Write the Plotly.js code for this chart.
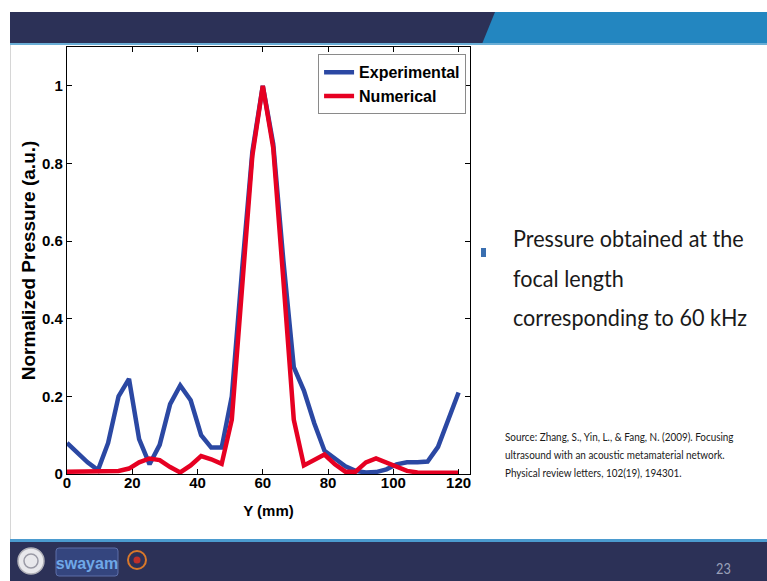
<!DOCTYPE html>
<html>
<head>
<meta charset="utf-8">
<script src="https://cdn.plot.ly/plotly-3.0.1.min.js"></script>
<style>
  html, body { margin:0; padding:0; background:#ffffff; }
  #slide { position:relative; width:767px; height:581px; overflow:hidden; background:#ffffff; font-family:"Lato","Open Sans",sans-serif; }
  #chart { position:absolute; left:0; top:0; width:767px; height:581px; }
  .abs { position:absolute; }
  #hdrNavy { left:10px; top:12px; width:757px; height:32px; background:#2c3157; }
  #hdrBlue { left:482px; top:12px; width:285px; height:32px; background:#2386c0; clip-path:polygon(13px 0, 100% 0, 100% 100%, 0 100%); }
  #hdrLine { left:10px; top:43px; width:757px; height:2px; background:#6aaed6; }
  #leftEdge { left:10px; top:45px; width:1px; height:495px; background:#d6d6d6; }
  #ftrLine { left:10px; top:539px; width:757px; height:3px; background:#4b9bcf; }
  #ftrNavy { left:10px; top:542px; width:757px; height:39px; background:#2c3157; }
  #pageNo { left:716px; top:559px; color:#9aa0b8; font-size:15px; font-family:"Lato",sans-serif; transform:scaleX(0.85); transform-origin:0 0; }
  #bullet { left:481px; top:248px; width:5px; height:9px; background:#3a6fb0; }
  #mainText { left:513px; top:218px; font-size:24px; line-height:39.5px; color:#1a1a1a; white-space:nowrap; transform:scaleX(0.9); transform-origin:0 0; }
  #srcText { left:505px; top:428px; font-size:11px; line-height:18px; color:#1a1a1a; white-space:nowrap; transform:scaleX(0.9); transform-origin:0 0; }
</style>
</head>
<body>
<div id="slide">
  <div class="abs" id="hdrNavy"></div>
  <div class="abs" id="hdrBlue"></div>
  <div class="abs" id="hdrLine"></div>
  <div class="abs" id="leftEdge"></div>
  <div class="abs" id="ftrLine"></div>
  <div class="abs" id="ftrNavy"></div>
  <svg class="abs" style="left:10px;top:542px;" width="160" height="39">
    <circle cx="21" cy="19" r="13" fill="#e8e8ec" stroke="#b0b0b8" stroke-width="1.5"/>
    <circle cx="21" cy="19" r="7" fill="none" stroke="#9a9aa6" stroke-width="1.5"/>
    <rect x="46" y="6" width="62" height="28" rx="3" fill="#34457e" stroke="#5c6ea8"/>
    <text x="77" y="27" text-anchor="middle" font-family="Liberation Sans Narrow, Liberation Sans, sans-serif" font-size="16" font-weight="bold" fill="#6fa8e8">swayam</text>
    <circle cx="127" cy="18" r="9" fill="none" stroke="#d9782a" stroke-width="2"/>
    <circle cx="127" cy="18" r="3.5" fill="#c0302a"/>
  </svg>
  <div class="abs" id="pageNo">23</div>
  <div class="abs" id="bullet"></div>
  <div class="abs" id="mainText">Pressure obtained at the<br>focal length<br>corresponding to 60 kHz</div>
  <div class="abs" id="srcText">Source: Zhang, S., Yin, L., &amp; Fang, N. (2009). Focusing<br>ultrasound with an acoustic metamaterial network.<br>Physical review letters, 102(19), 194301.</div>
  <div id="chart"></div>
</div>
<script>
// ---- data ----
const yPositions = [0, 3.2, 6.3, 9.5, 12.6, 15.8, 19, 22.1, 25.3, 28.4, 31.6, 34.7, 37.9, 41.1, 44.2, 47.4, 50.5, 53.7, 56.8, 60, 63.2, 66.3, 69.5, 72.6, 75.8, 78.9, 82.1, 85.3, 88.4, 91.6, 94.7, 97.9, 101, 104.2, 107.4, 110.5, 113.7, 116.8, 120];
const experimental = [0.08, 0.055, 0.03, 0.01, 0.08, 0.2, 0.245, 0.09, 0.025, 0.075, 0.18, 0.228, 0.19, 0.1, 0.068, 0.068, 0.2, 0.53, 0.83, 1.0, 0.85, 0.55, 0.275, 0.215, 0.13, 0.06, 0.04, 0.02, 0.008, 0.004, 0.005, 0.012, 0.025, 0.03, 0.03, 0.032, 0.07, 0.14, 0.21];
const numerical = [0.006, 0.006, 0.006, 0.006, 0.006, 0.008, 0.014, 0.03, 0.04, 0.036, 0.018, 0.004, 0.022, 0.046, 0.038, 0.026, 0.14, 0.48, 0.82, 1.0, 0.84, 0.5, 0.14, 0.022, 0.035, 0.05, 0.025, 0.006, 0.006, 0.03, 0.04, 0.03, 0.018, 0.008, 0.004, 0.003, 0.003, 0.003, 0.003];
const seriesNames = ["Experimental", "Numerical"];
const xTickVals = [0, 20, 40, 60, 80, 100, 120];
const xTickText = ["0", "20", "40", "60", "80", "100", "120"];
const yTickVals = [0, 0.2, 0.4, 0.6, 0.8, 1];
const yTickText = ["0", "0.2", "0.4", "0.6", "0.8", "1"];
const xTitle = "Y (mm)";
const yTitle = "Normalized Pressure (a.u.)";

const boldFont = {family: "Liberation Sans, Arial, sans-serif", size: 15, color: "#000000", weight: "bold"};

const traces = [
  {x: yPositions, y: experimental, name: seriesNames[0], type: "scatter", mode: "lines",
   line: {color: "#2b48a3", width: 4.5}},
  {x: yPositions, y: numerical, name: seriesNames[1], type: "scatter", mode: "lines",
   line: {color: "#e60022", width: 4.5}}
];

const axisCommon = {
  showgrid: false, zeroline: false, showline: true, linecolor: "#000000", linewidth: 1.2,
  mirror: "allticks", ticks: "inside", ticklen: 5, tickwidth: 1, tickcolor: "#000000",
  tickfont: boldFont, fixedrange: true
};

const layout = {
  width: 767, height: 581,
  margin: {l: 67, r: 297, t: 47, b: 107, pad: 0},
  paper_bgcolor: "rgba(0,0,0,0)", plot_bgcolor: "rgba(0,0,0,0)",
  showlegend: true,
  legend: {x: 0.623, y: 0.983, xanchor: "left", yanchor: "top",
           bgcolor: "#ffffff", bordercolor: "#8a8a8a", borderwidth: 1,
           font: {family: "Liberation Sans, Arial, sans-serif", size: 16, color: "#000000", weight: "bold"},
           tracegroupgap: 0, itemwidth: 30},
  xaxis: Object.assign({}, axisCommon, {
    range: [0, 123.5], tickmode: "array", tickvals: xTickVals, ticktext: xTickText,
    ticklabelstandoff: -5,
    title: {text: xTitle, font: {family: "Liberation Sans, Arial, sans-serif", size: 15, color: "#000000", weight: "bold"}, standoff: 15}
  }),
  yaxis: Object.assign({}, axisCommon, {
    range: [0, 1.1], tickmode: "array", tickvals: yTickVals, ticktext: yTickText,
    title: {text: yTitle, font: {family: "Liberation Sans, Arial, sans-serif", size: 19, color: "#000000", weight: "bold"}, standoff: 1}
  })
};

Plotly.newPlot("chart", traces, layout, {displayModeBar: false, staticPlot: true});
</script>
</body>
</html>
